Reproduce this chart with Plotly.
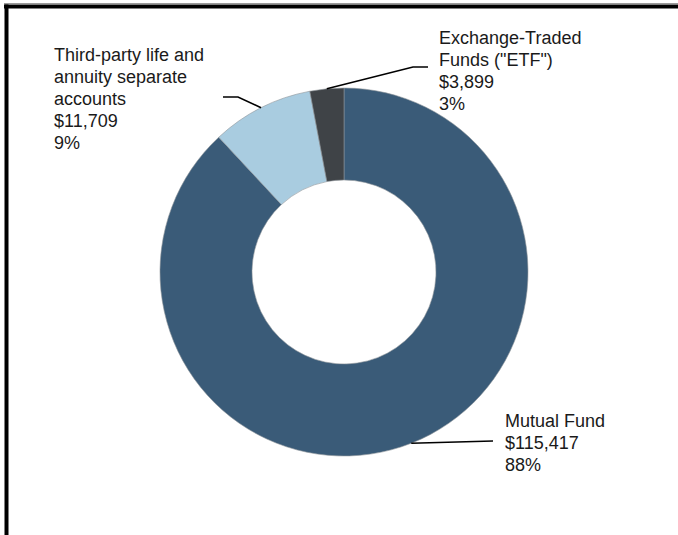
import math
import plotly.graph_objects as go

# ---- data ----
categories = ["Mutual Fund", "Third-party life and annuity separate accounts", "Exchange-Traded Funds (\"ETF\")"]
label_lines = [["Mutual Fund"], ["Third-party life and", "annuity separate", "accounts"], ["Exchange-Traded", "Funds (\"ETF\")"]]
values = [115417, 11709, 3899]

# ---- style ----
W, H = 678, 535
colors = ["#3a5b78", "#a9cce0", "#3f4347"]
CX, CY, R = 344, 272, 184
FONT = "Liberation Sans, Arial, sans-serif"
FS = 18
LINE_H = 22
# label text left x and first baseline (pixels)
text_pos = [(503, 427), (52, 61), (437, 44)]
# leader line elbow points (pixels) after the slice anchor
leader_pts = [[(493, 441)], [(238, 97), (223, 97)], [(413, 67), (428, 67)]]

def px(x):
    return x / W

def py(y):
    return 1 - y / H

fig = go.Figure()
fig.add_trace(go.Pie(
    labels=categories,
    values=values,
    hole=0.5,
    sort=False,
    direction="clockwise",
    rotation=0,
    textinfo="none",
    hoverinfo="label+value+percent",
    marker=dict(colors=colors, line=dict(color="#8f959b", width=0.6)),
    domain=dict(x=[px(CX - R), px(CX + R)], y=[py(CY + R), py(CY - R)]),
    showlegend=False,
))

total = sum(values)
shapes = []
annotations = []
cum = 0.0
for i, v in enumerate(values):
    frac = v / total
    mid = (cum + frac / 2) * 2 * math.pi
    cum += frac
    ax = CX + R * math.sin(mid)
    ay = CY - R * math.cos(mid)
    pts = [(ax, ay)] + leader_pts[i]
    path = "M " + " L ".join(f"{px(x):.5f},{py(y):.5f}" for x, y in pts)
    shapes.append(dict(type="path", xref="paper", yref="paper", path=path,
                       line=dict(color="black", width=1.6)))
    lines = label_lines[i] + [f"${v:,}", f"{round(frac * 100):d}%"]
    tx, ty = text_pos[i]
    for j, t in enumerate(lines):
        base = ty + j * LINE_H
        annotations.append(dict(
            x=px(tx), y=py(base - 6.3), xref="paper", yref="paper",
            text=t, showarrow=False, xanchor="left", yanchor="middle",
            font=dict(family=FONT, size=FS, color="#1a1a1a"),
        ))

# frame (left and top rules)
shapes.append(dict(type="line", xref="paper", yref="paper",
                   x0=px(4), x1=px(W), y0=py(3.5), y1=py(3.5),
                   line=dict(color="#9a9a9a", width=1)))
shapes.append(dict(type="line", xref="paper", yref="paper",
                   x0=px(4), x1=px(W), y0=py(6.5), y1=py(6.5),
                   line=dict(color="black", width=4)))
shapes.append(dict(type="line", xref="paper", yref="paper",
                   x0=px(6.5), x1=px(6.5), y0=py(4.5), y1=py(H),
                   line=dict(color="black", width=4)))

fig.update_layout(
    width=W, height=H,
    margin=dict(l=0, r=0, t=0, b=0),
    paper_bgcolor="white", plot_bgcolor="white",
    shapes=shapes, annotations=annotations,
    font=dict(family=FONT),
)

fig.write_html("out.html", config={"displayModeBar": False},
               post_script="document.body.style.margin='0';document.body.style.overflow='hidden';")
